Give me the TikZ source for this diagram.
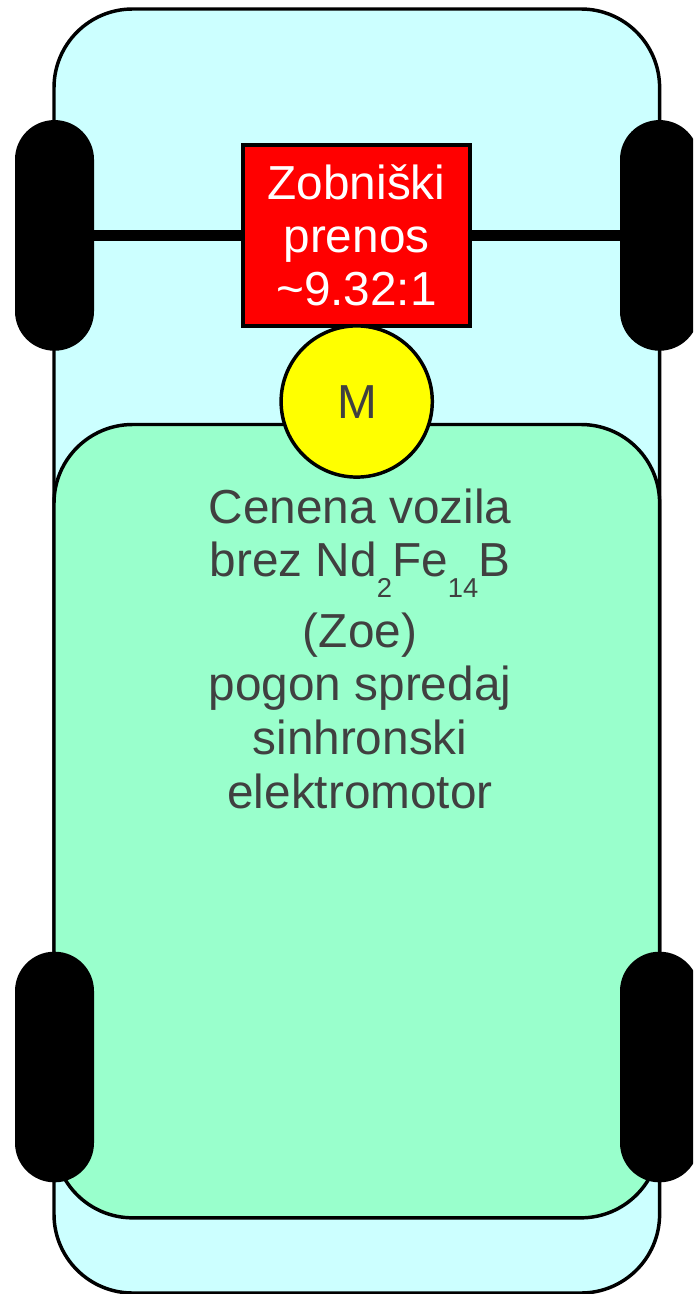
\documentclass[tikz,border=0pt]{standalone}
\usepackage{fontspec}
\setmainfont{Liberation Sans}
\definecolor{bodyc}{HTML}{CCFFFF}
\definecolor{cabin}{HTML}{99FFCC}
\definecolor{txt}{HTML}{404040}
\definecolor{gearred}{HTML}{FF0000}
\definecolor{motory}{HTML}{FFFF00}
\newcommand{\lowsub}[1]{\raisebox{-15.5pt}[0pt][0pt]{\fontsize{20.5}{20.5}\selectfont #1}}
\tikzset{x=0.75pt,y=-0.75pt,
 every node/.style={outer sep=0pt,inner sep=0pt},
 outl/.style={draw=black,line width=2.6pt},
 wheel/.style={fill=black,rounded corners=29.6pt,minimum width=59.25pt,minimum height=173pt},
 lbl/.style={font=\fontsize{35.8}{40}\selectfont,align=center}}
\begin{document}
\begin{tikzpicture}
\useasboundingbox (0,0) rectangle (693,1294);
\path[clip] (0,0) rectangle (693,1294);
\node[outl,fill=bodyc,rounded corners=59pt,minimum width=454.2pt,minimum height=963pt,anchor=north west] (body) at (54,9) {};
\node[outl,fill=cabin,rounded corners=59pt,minimum width=454.2pt,minimum height=595pt,anchor=north west] (cabin) at (54,424.5) {};
\node[wheel] (wfl) at (54.5,235.4) {};
\node[wheel] (wfr) at (659.5,235.4) {};
\node[wheel] (wrl) at (54.5,1067) {};
\node[wheel] (wrr) at (659.5,1067) {};
\node[outl,fill=gearred,minimum width=170.5pt,minimum height=135.6pt] (gear) at (356.5,235.4) {};
\draw[line width=8pt] (wfl) -- (gear);
\draw[line width=8pt] (gear) -- (wfr);
\node[lbl,text=white] (gtext) at (356.5,235.5) {Zobniški\\prenos\\\textasciitilde 9.32:1};
\node[outl,fill=motory,circle,minimum size=113.4pt] (motor) at (356.7,401.5) {};
\node[lbl,text=txt] (mtext) at (357,402) {M};
\node[lbl,text=txt,anchor=north] (ctext) at (360,489) {Cenena vozila\\brez Nd\lowsub{2}Fe\lowsub{14}B\\[13pt](Zoe)\\pogon spredaj\\sinhronski\\[1pt]elektromotor};
\end{tikzpicture}
\end{document}
